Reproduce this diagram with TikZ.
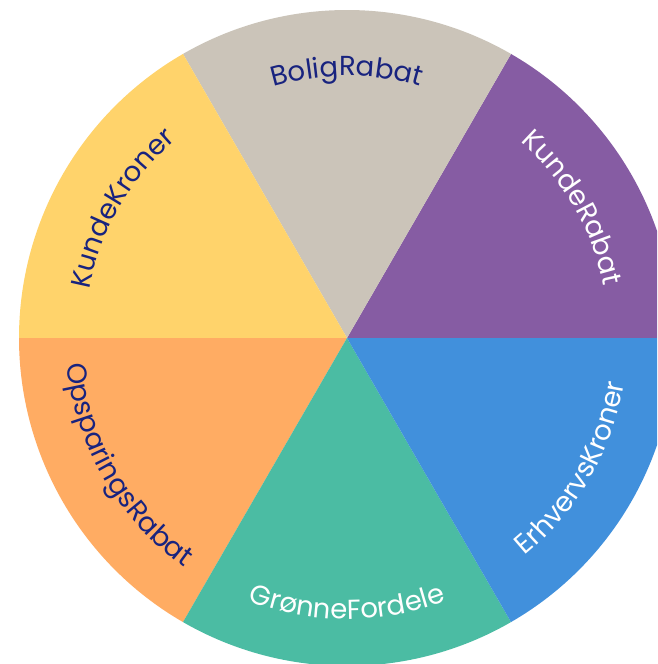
\documentclass[tikz,border=0pt]{standalone}
\usepackage{fontspec}
\setmainfont{Poppins}
\usetikzlibrary{decorations.text}
\definecolor{cBolig}{HTML}{CBC4B9}
\definecolor{cKRabat}{HTML}{865CA3}
\definecolor{cErhverv}{HTML}{4190DC}
\definecolor{cGron}{HTML}{4BBCA3}
\definecolor{cOps}{HTML}{FFAC63}
\definecolor{cKKroner}{HTML}{FFD36B}
\definecolor{cNavy}{HTML}{18237F}
\newcommand{\wheelfont}{\fontsize{27.5}{32}\selectfont}
\tikzset{
  sector/.style={fill=#1, draw=none},
  toplabel/.style 2 args={decorate, decoration={text along path, text align=center,
     text={|\wheelfont\color{#1}|#2}}},
}
\begin{document}
\begin{tikzpicture}[x=1pt,y=1pt]
\useasboundingbox (0,0) rectangle (657,-664);
\clip (0,0) rectangle (657,-664);
\fill[white] (0,0) rectangle (657,-664);
\coordinate (C) at (347,-338);
\def\R{328}
\fill[sector=cKRabat]  (C) -- ++(0:\R)   arc[start angle=0,   end angle=60,  radius=\R] -- cycle;
\fill[sector=cBolig]   (C) -- ++(60:\R)  arc[start angle=60,  end angle=120, radius=\R] -- cycle;
\fill[sector=cKKroner] (C) -- ++(120:\R) arc[start angle=120, end angle=180, radius=\R] -- cycle;
\fill[sector=cOps]     (C) -- ++(180:\R) arc[start angle=180, end angle=240, radius=\R] -- cycle;
\fill[sector=cGron]    (C) -- ++(240:\R) arc[start angle=240, end angle=300, radius=\R] -- cycle;
\fill[sector=cErhverv] (C) -- ++(300:\R) arc[start angle=300, end angle=360, radius=\R] -- cycle;
% labels (top: clockwise, bottom: counterclockwise)
\def\rt{262}
\def\rb{281}
\path[toplabel={cNavy}{BoligRabat}]      (C) ++(125:\rt) arc[start angle=125, end angle=55,  radius=\rt];
\path[toplabel={white}{KundeRabat}]      (C) ++(65:\rt)  arc[start angle=65,  end angle=-5,  radius=\rt];
\path[toplabel={cNavy}{KundeKroner}]     (C) ++(185:\rt) arc[start angle=185, end angle=115, radius=\rt];
\path[toplabel={cNavy}{OpsparingsRabat}] (C) ++(165:\rb) arc[start angle=165, end angle=255, radius=\rb];
\path[toplabel={white}{GrønneFordele}]   (C) ++(225:\rb) arc[start angle=225, end angle=315, radius=\rb];
\path[toplabel={white}{ErhvervsKroner}]  (C) ++(285:\rb) arc[start angle=285, end angle=375, radius=\rb];
\end{tikzpicture}
\end{document}
